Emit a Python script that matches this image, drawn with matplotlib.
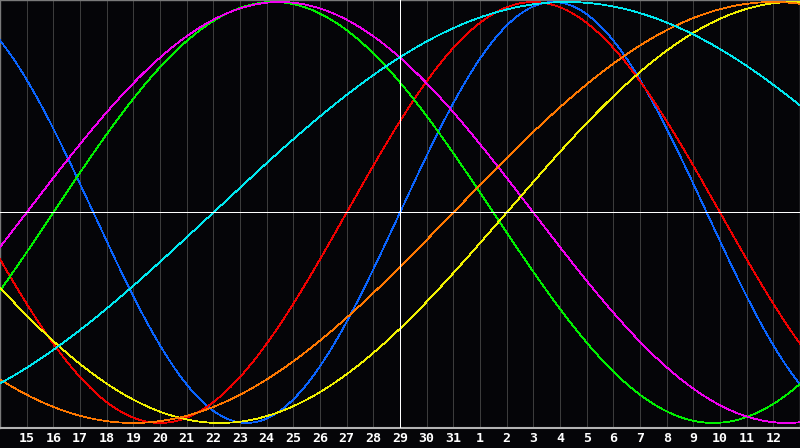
import numpy as np
import matplotlib
matplotlib.use("Agg")
import matplotlib.pyplot as plt

# day labels under the gridlines (index 1..29), today is index 15
day_labels = [15, 16, 17, 18, 19, 20, 21, 22, 23, 24, 25, 26, 27, 28, 29,
              30, 31, 1, 2, 3, 4, 5, 6, 7, 8, 9, 10, 11, 12]
today_index = 15

# biorhythm cycles: length in days and the day index where each cycle starts (rising zero)
cycle_names = ["physical", "emotional", "intellectual", "intuitive",
               "aesthetic", "awareness", "spiritual"]
cycle_periods = [23, 28, 33, 38, 43, 48, 53]
cycle_start = [15.0, 13.0, 2.0, 1.0, 19.0, 17.0, 8.0]
cycle_colors = ["#0a64ff", "#f00000", "#00f000", "#f000f0",
                "#f0f000", "#ff7800", "#00e8f0"]

n_days = 30
bg = "#050508"
thin = 0.55

fig = plt.figure(figsize=(8, 4.48), dpi=100, facecolor=bg)
ax = fig.add_axes([0, 20 / 448, 1, 428 / 448])
ax.set_facecolor(bg)
ax.set_xlim(0, n_days)
ax.set_ylim(-1.024, 1.0095)

# day gridlines
for i in range(1, n_days):
    ax.axvline(i, color="#3c3c3c", lw=thin, antialiased=False, zorder=1)

x = np.linspace(0, n_days, 1201)
for name, per, start, col in zip(cycle_names, cycle_periods, cycle_start, cycle_colors):
    y = np.sin(2 * np.pi * (x - start) / per)
    ax.plot(x, y, color=col, lw=thin, antialiased=False, zorder=3, label=name)

# today + zero line
ax.axvline(today_index, color="white", lw=thin, antialiased=False, zorder=4)
ax.axhline(0, color="white", lw=thin, antialiased=False, zorder=4)

ax.set_xticks(range(1, n_days))
ax.set_xticklabels([str(d) for d in day_labels], color="white",
                   fontsize=9.5, fontweight="bold", family="DejaVu Sans Mono")
ax.tick_params(axis="x", length=0, pad=3)
ax.set_yticks([])

for side in ["left", "top", "right"]:
    ax.spines[side].set_color("#7a7a7a")
    ax.spines[side].set_linewidth(1.0)
ax.spines["bottom"].set_color("#b4b4b4")
ax.spines["bottom"].set_linewidth(1.5)

fig.savefig("out.png", dpi=100, facecolor=bg)
